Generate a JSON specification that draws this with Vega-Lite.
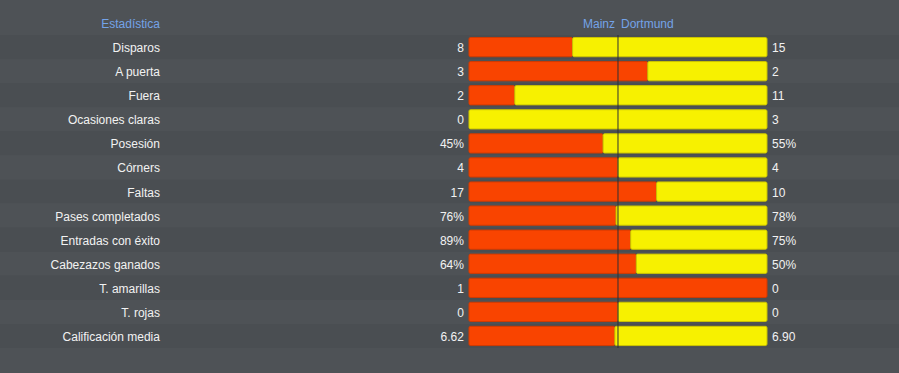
{
  "$schema": "https://vega.github.io/schema/vega-lite/v6.json",
  "width": 899,
  "height": 373,
  "autosize": {"type": "none"},
  "padding": 0,
  "background": "#4e5256",
  "config": {"view": {"stroke": null}, "font": "Liberation Sans"},
  "datasets": {
    "stats": [
      {"stat": "Disparos", "mainz": "8", "dortmund": "15", "share": 0.3478, "stripe": "a"},
      {"stat": "A puerta", "mainz": "3", "dortmund": "2", "share": 0.6, "stripe": "b"},
      {"stat": "Fuera", "mainz": "2", "dortmund": "11", "share": 0.1538, "stripe": "a"},
      {"stat": "Ocasiones claras", "mainz": "0", "dortmund": "3", "share": 0, "stripe": "b"},
      {"stat": "Posesión", "mainz": "45%", "dortmund": "55%", "share": 0.45, "stripe": "a"},
      {"stat": "Córners", "mainz": "4", "dortmund": "4", "share": 0.5, "stripe": "b"},
      {"stat": "Faltas", "mainz": "17", "dortmund": "10", "share": 0.6296, "stripe": "a"},
      {"stat": "Pases completados", "mainz": "76%", "dortmund": "78%", "share": 0.4935, "stripe": "b"},
      {"stat": "Entradas con éxito", "mainz": "89%", "dortmund": "75%", "share": 0.5427, "stripe": "a"},
      {"stat": "Cabezazos ganados", "mainz": "64%", "dortmund": "50%", "share": 0.5614, "stripe": "b"},
      {"stat": "T. amarillas", "mainz": "1", "dortmund": "0", "share": 1, "stripe": "a"},
      {"stat": "T. rojas", "mainz": "0", "dortmund": "0", "share": 0.5, "stripe": "b"},
      {"stat": "Calificación media", "mainz": "6.62", "dortmund": "6.90", "share": 0.4896, "stripe": "a"}
    ],
    "header": [
      {"stat": "Estadística", "home": "Mainz", "away": "Dortmund"}
    ]
  },
  "layer": [
    {
      "data": {"name": "stats"},
      "mark": {"type": "rect"},
      "encoding": {
        "y": {
          "field": "stat",
          "type": "nominal",
          "axis": null,
          "scale": {
            "domain": ["Estadística", "Disparos", "A puerta", "Fuera", "Ocasiones claras", "Posesión", "Córners", "Faltas", "Pases completados", "Entradas con éxito", "Cabezazos ganados", "T. amarillas", "T. rojas", "Calificación media"],
            "range": [11, 348],
            "paddingInner": 0,
            "paddingOuter": 0
          }
        },
        "color": {
          "field": "stripe",
          "type": "nominal",
          "legend": null,
          "scale": {"domain": ["a", "b"], "range": ["#4a4e52", "#4e5256"]}
        }
      }
    },
    {
      "data": {"name": "stats"},
      "transform": [{"filter": "datum.share > 0"}],
      "mark": {"type": "bar", "height": {"band": 0.8}, "color": "#f94400", "stroke": "#d23a00", "strokeWidth": 1, "cornerRadius": 1.5},
      "encoding": {
        "y": {"field": "stat", "type": "nominal"},
        "x": {"field": "share", "type": "quantitative", "scale": {"domain": [-1.5738, 1.443], "nice": false, "zero": false}, "axis": null},
        "x2": {"datum": 0}
      }
    },
    {
      "data": {"name": "stats"},
      "transform": [{"filter": "datum.share < 1"}],
      "mark": {"type": "bar", "height": {"band": 0.8}, "color": "#f7f100", "stroke": "#cbc400", "strokeWidth": 1, "cornerRadius": 1.5},
      "encoding": {
        "y": {"field": "stat", "type": "nominal"},
        "x": {"field": "share", "type": "quantitative"},
        "x2": {"datum": 1}
      }
    },
    {
      "data": {"name": "stats"},
      "mark": {"type": "tick", "orient": "vertical", "color": "#2e3033", "thickness": 1, "size": 24.1, "opacity": 1},
      "encoding": {
        "y": {"field": "stat", "type": "nominal"},
        "x": {"datum": 0.5, "type": "quantitative"}
      }
    },
    {
      "data": {"name": "stats"},
      "mark": {"type": "text", "align": "right", "baseline": "middle", "fontSize": 12, "color": "#f2f2f2", "dy": 1},
      "encoding": {
        "y": {"field": "stat", "type": "nominal"},
        "x": {"datum": -1.037, "type": "quantitative"},
        "text": {"field": "stat"}
      }
    },
    {
      "data": {"name": "stats"},
      "mark": {"type": "text", "align": "right", "baseline": "middle", "fontSize": 12, "color": "#f2f2f2", "dy": 1},
      "encoding": {
        "y": {"field": "stat", "type": "nominal"},
        "x": {"datum": -0.017, "type": "quantitative"},
        "text": {"field": "mainz"}
      }
    },
    {
      "data": {"name": "stats"},
      "mark": {"type": "text", "align": "left", "baseline": "middle", "fontSize": 12, "color": "#f2f2f2", "dy": 1},
      "encoding": {
        "y": {"field": "stat", "type": "nominal"},
        "x": {"datum": 1.017, "type": "quantitative"},
        "text": {"field": "dortmund"}
      }
    },
    {
      "data": {"name": "header"},
      "mark": {"type": "text", "align": "right", "baseline": "middle", "fontSize": 12, "color": "#74a3e8", "dy": 1},
      "encoding": {
        "y": {"field": "stat", "type": "nominal"},
        "x": {"datum": -1.037, "type": "quantitative"},
        "text": {"field": "stat"}
      }
    },
    {
      "data": {"name": "header"},
      "mark": {"type": "text", "align": "right", "baseline": "middle", "fontSize": 12, "color": "#74a3e8", "dx": -3, "dy": 1},
      "encoding": {
        "y": {"field": "stat", "type": "nominal"},
        "x": {"datum": 0.5, "type": "quantitative"},
        "text": {"field": "home"}
      }
    },
    {
      "data": {"name": "header"},
      "mark": {"type": "text", "align": "left", "baseline": "middle", "fontSize": 12, "color": "#74a3e8", "dx": 3, "dy": 1},
      "encoding": {
        "y": {"field": "stat", "type": "nominal"},
        "x": {"datum": 0.5, "type": "quantitative"},
        "text": {"field": "away"}
      }
    }
  ]
}
